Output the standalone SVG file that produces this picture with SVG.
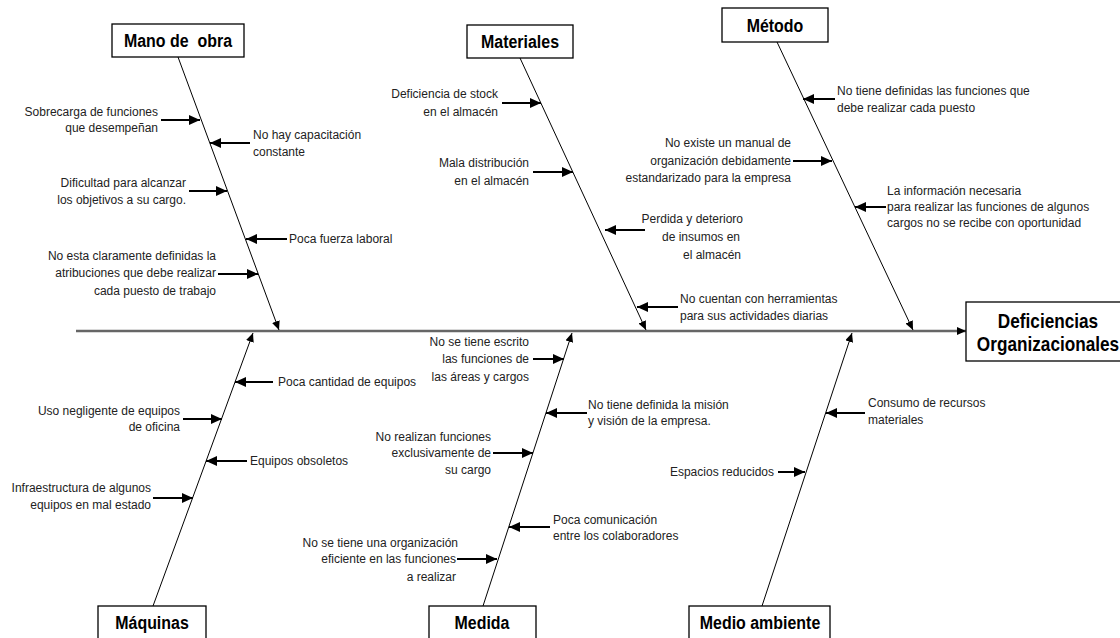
<svg xmlns="http://www.w3.org/2000/svg" width="1120" height="638" viewBox="0 0 1120 638">
<style>
.t{font-family:"Liberation Sans",Arial,sans-serif;font-size:12px;fill:#222}
.e{text-anchor:end}
.h{font-family:"Liberation Sans",Arial,sans-serif;font-size:19px;font-weight:bold;fill:#000;text-anchor:middle;white-space:pre}
.hb{font-size:20px}
.box{fill:#fff;stroke:#000;stroke-width:1.3}
.bone{stroke:#000;stroke-width:1;fill:none;marker-end:url(#bh)}
.br{stroke:#000;stroke-width:2;fill:none;marker-end:url(#ah)}
.spine{stroke:#666;stroke-width:2.5;fill:none;marker-end:url(#sh)}
</style>
<defs>
<marker id="ah" markerUnits="userSpaceOnUse" markerWidth="12" markerHeight="10" refX="11" refY="5" orient="auto"><path d="M0,0 L11,5 L0,10 z" fill="#000"/></marker>
<marker id="bh" markerUnits="userSpaceOnUse" markerWidth="10" markerHeight="8" refX="9" refY="4" orient="auto"><path d="M0,0 L9,4 L0,8 z" fill="#000"/></marker>
<marker id="sh" markerUnits="userSpaceOnUse" markerWidth="10" markerHeight="8" refX="9" refY="4" orient="auto"><path d="M0,0 L9,4 L0,8 z" fill="#000"/></marker>
</defs>
<rect width="1120" height="638" fill="#fff"/>
<g id="connectors">
<line class="spine" x1="76" y1="331" x2="966" y2="331"/>
<line class="bone" x1="178" y1="57" x2="279" y2="330"/>
<line class="bone" x1="520" y1="58" x2="646" y2="330"/>
<line class="bone" x1="777" y1="42" x2="913" y2="330"/>
<line class="bone" x1="153" y1="606" x2="253" y2="333"/>
<line class="bone" x1="483" y1="606" x2="572" y2="333"/>
<line class="bone" x1="762" y1="606" x2="852" y2="333"/>
<line class="br" x1="161" y1="120" x2="200" y2="120"/>
<line class="br" x1="250" y1="143" x2="210" y2="143"/>
<line class="br" x1="189" y1="191" x2="227" y2="191"/>
<line class="br" x1="287" y1="239" x2="246" y2="239"/>
<line class="br" x1="218" y1="274" x2="258" y2="274"/>
<line class="br" x1="502" y1="103" x2="541" y2="103"/>
<line class="br" x1="533" y1="172" x2="573" y2="172"/>
<line class="br" x1="645" y1="230" x2="605" y2="230"/>
<line class="br" x1="678" y1="307" x2="637" y2="307"/>
<line class="br" x1="835" y1="99" x2="803" y2="99"/>
<line class="br" x1="793" y1="161" x2="832" y2="161"/>
<line class="br" x1="886" y1="207" x2="855" y2="207"/>
<line class="br" x1="273" y1="382" x2="235" y2="382"/>
<line class="br" x1="183" y1="419" x2="222" y2="419"/>
<line class="br" x1="247" y1="461" x2="206" y2="461"/>
<line class="br" x1="153" y1="498" x2="193" y2="498"/>
<line class="br" x1="533" y1="359" x2="564" y2="359"/>
<line class="br" x1="587" y1="413" x2="546" y2="413"/>
<line class="br" x1="493" y1="453" x2="533" y2="453"/>
<line class="br" x1="550" y1="527" x2="509" y2="527"/>
<line class="br" x1="457" y1="559" x2="497" y2="559"/>
<line class="br" x1="865" y1="413" x2="826" y2="413"/>
<line class="br" x1="778" y1="472" x2="805" y2="472"/>
</g>
<g id="mano-de-obra"><rect class="box" x="112" y="24" width="132" height="33"/><text class="h" transform="translate(178,47) scale(0.84,1)">Mano de  obra</text></g>
<g id="materiales"><rect class="box" x="467" y="25" width="106" height="33"/><text class="h" transform="translate(520,48) scale(0.84,1)">Materiales</text></g>
<g id="metodo"><rect class="box" x="722" y="8" width="106" height="34"/><text class="h" transform="translate(775,32) scale(0.84,1)">Método</text></g>
<g id="efecto"><rect class="box" x="966" y="302" width="170" height="59"/><text class="h hb" transform="translate(1048,328) scale(0.86,1)">Deficiencias</text><text class="h hb" transform="translate(1048,351) scale(0.86,1)">Organizacionales</text></g>
<g id="maquinas"><rect class="box" x="98" y="606" width="108" height="40"/><text class="h" transform="translate(152,629) scale(0.84,1)">Máquinas</text></g>
<g id="medida"><rect class="box" x="429" y="606" width="107" height="40"/><text class="h" transform="translate(482,629) scale(0.84,1)">Medida</text></g>
<g id="medio-ambiente"><rect class="box" x="689" y="606" width="141" height="40"/><text class="h" transform="translate(760,629) scale(0.84,1)">Medio ambiente</text></g>
<g id="causa-mano-1"><text class="t e" x="158" y="116">Sobrecarga de funciones</text><text class="t e" x="158" y="132">que desempeñan</text></g>
<g id="causa-mano-2"><text class="t" x="253" y="139">No hay capacitación</text><text class="t" x="253" y="156">constante</text></g>
<g id="causa-mano-3"><text class="t e" x="186" y="187">Dificultad para alcanzar</text><text class="t e" x="186" y="204">los objetivos a su cargo.</text></g>
<g id="causa-mano-4"><text class="t" x="289" y="243">Poca fuerza laboral</text></g>
<g id="causa-mano-5"><text class="t e" x="216" y="260">No esta claramente definidas la</text><text class="t e" x="216" y="277">atribuciones que debe realizar</text><text class="t e" x="216" y="295">cada puesto de trabajo</text></g>
<g id="causa-mat-1"><text class="t e" x="498" y="98">Deficiencia de stock</text><text class="t e" x="498" y="116">en el almacén</text></g>
<g id="causa-mat-2"><text class="t e" x="529" y="167">Mala distribución</text><text class="t e" x="529" y="185">en el almacén</text></g>
<g id="causa-mat-3"><text class="t e" x="743" y="223">Perdida y deterioro</text><text class="t e" x="740" y="241">de insumos en</text><text class="t e" x="741" y="259">el almacén</text></g>
<g id="causa-mat-4"><text class="t" x="680" y="303">No cuentan con herramientas</text><text class="t" x="680" y="320">para sus actividades diarias</text></g>
<g id="causa-met-1"><text class="t" x="837" y="95">No tiene definidas las funciones que</text><text class="t" x="837" y="112">debe realizar cada puesto</text></g>
<g id="causa-met-2"><text class="t e" x="791" y="147">No existe un manual de</text><text class="t e" x="791" y="165">organización debidamente</text><text class="t e" x="791" y="182">estandarizado para la empresa</text></g>
<g id="causa-met-3"><text class="t" x="887" y="195">La información necesaria</text><text class="t" x="887" y="211">para realizar las funciones de algunos</text><text class="t" x="887" y="227">cargos no se recibe con oportunidad</text></g>
<g id="causa-maq-1"><text class="t" x="278" y="386">Poca cantidad de equipos</text></g>
<g id="causa-maq-2"><text class="t e" x="180" y="415">Uso negligente de equipos</text><text class="t e" x="180" y="431">de oficina</text></g>
<g id="causa-maq-3"><text class="t" x="250" y="465">Equipos obsoletos</text></g>
<g id="causa-maq-4"><text class="t e" x="151" y="492">Infraestructura de algunos</text><text class="t e" x="151" y="509">equipos en mal estado</text></g>
<g id="causa-med-1"><text class="t e" x="529" y="346">No se tiene escrito</text><text class="t e" x="529" y="363">las funciones de</text><text class="t e" x="529" y="381">las áreas y cargos</text></g>
<g id="causa-med-2"><text class="t" x="588" y="409">No tiene definida la misión</text><text class="t" x="588" y="425">y visión de la empresa.</text></g>
<g id="causa-med-3"><text class="t e" x="491" y="441">No realizan funciones</text><text class="t e" x="491" y="457">exclusivamente de</text><text class="t e" x="491" y="474">su cargo</text></g>
<g id="causa-med-4"><text class="t" x="553" y="524">Poca comunicación</text><text class="t" x="553" y="540">entre los colaboradores</text></g>
<g id="causa-med-5"><text class="t e" x="458" y="547">No se tiene una organización</text><text class="t e" x="456" y="563">eficiente en las funciones</text><text class="t e" x="456" y="581">a realizar</text></g>
<g id="causa-amb-1"><text class="t" x="868" y="407">Consumo de recursos</text><text class="t" x="868" y="424">materiales</text></g>
<g id="causa-amb-2"><text class="t e" x="774" y="476">Espacios reducidos</text></g>
</svg>
